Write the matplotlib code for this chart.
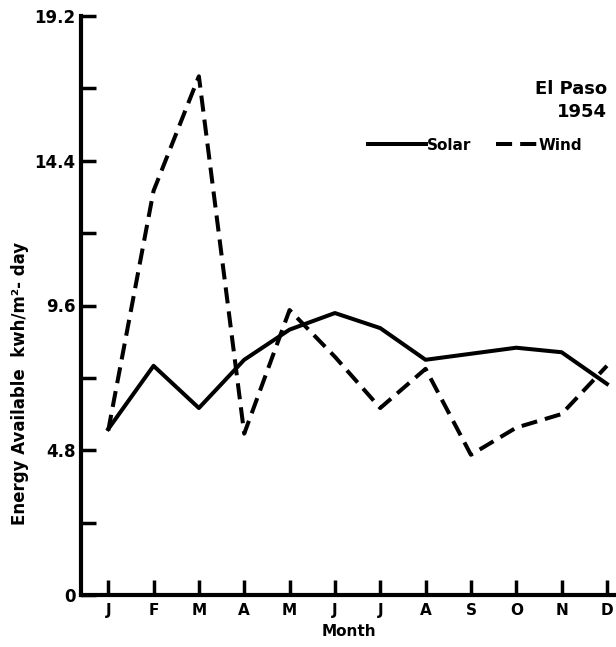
import matplotlib
matplotlib.use("Agg")
import matplotlib.pyplot as plt

plt.rcParams['font.family'] = ['DejaVu Sans']
plt.rcParams['font.weight'] = 'bold'

months = ['J', 'F', 'M', 'A', 'M', 'J', 'J', 'A', 'S', 'O', 'N', 'D']
solar = [5.5, 7.6, 6.2, 7.8, 8.8, 9.35, 8.85, 7.8, 8.0, 8.2, 8.05, 7.0]
wind = [5.45, 13.4, 17.2, 5.35, 9.45, 7.9, 6.2, 7.5, 4.65, 5.55, 6.0, 7.6]
yticks = [0, 2.4, 4.8, 7.2, 9.6, 12.0, 14.4, 16.8, 19.2]
ylabels = ['0', '', '4.8', '', '9.6', '', '14.4', '', '19.2']

fig = plt.figure(figsize=(6.16, 6.47), dpi=100)
ax = fig.add_axes([81 / 616, 1 - 595 / 647, 535 / 616, 579 / 647])

x = list(range(len(months)))
solar_line, = ax.plot(x, solar, color='black', lw=2.9, label='Solar')
wind_line, = ax.plot(x, wind, color='black', lw=2.9, dashes=(4, 2), label='Wind')

ax.set_xlim(-0.6, 11.2)
ax.set_ylim(0, 19.2)
ax.set_xticks(x)
ax.set_xticklabels(months, fontsize=11, fontweight='bold')
ax.set_yticks(yticks)
ax.set_yticklabels(ylabels, fontsize=12, fontweight='bold')
ax.tick_params(axis='both', direction='in', length=11, width=2.5, pad=4)
ax.tick_params(axis='x', pad=6)

for side in ['top', 'right']:
    ax.spines[side].set_visible(False)
for side in ['left', 'bottom']:
    ax.spines[side].set_linewidth(3)

ax.set_xlabel('Month', fontsize=11, fontweight='bold', labelpad=4)
ax.set_ylabel('Energy Available  kwh/m²- day', fontsize=12, fontweight='bold')
ax.yaxis.set_label_coords(-0.098, 0.366)

ax.text(11.0, 16.4, 'El Paso\n1954', ha='right', va='center', fontsize=13,
        fontweight='bold', linespacing=1.35)

leg1 = ax.legend(handles=[solar_line], loc='center left', bbox_to_anchor=(0.536, 0.777),
                 frameon=False, fontsize=11, handlelength=3.8, handletextpad=0.1,
                 borderpad=0, borderaxespad=0)
ax.add_artist(leg1)
ax.legend(handles=[wind_line], loc='center left', bbox_to_anchor=(0.775, 0.777),
          frameon=False, fontsize=11, handlelength=2.7, handletextpad=0.1,
          borderpad=0, borderaxespad=0)

fig.savefig('out.png', dpi=100)
